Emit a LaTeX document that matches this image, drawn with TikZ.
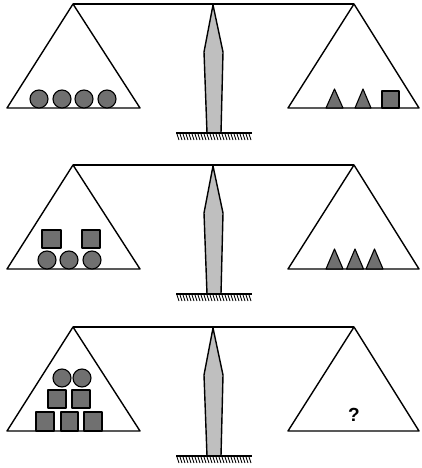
\documentclass[tikz,border=0pt]{standalone}
\usepackage{fontspec}
\usepackage{tikz}
\newfontfamily\labelfont{Liberation Sans}

\begin{document}
\begin{tikzpicture}[
   x=1pt,y=-1pt,
   line join=round,
   frame/.style={draw,line width=1.4pt},
   post/.style={draw,line width=1.4pt,fill=gray!50},
   weight/.style={draw,line width=1.1pt,fill=gray!75!black!90},
   hatch/.style={line width=0.9pt},
]
\useasboundingbox (0,0) rectangle (421,468);

% the three balances
\foreach \y in {4,165,327} {
   \draw[frame] (73,\y) -- (354,\y);
   \draw[frame] (73,\y) -- (7,\y+104) -- (140,\y+104) -- cycle;
   \draw[frame] (354,\y) -- (288,\y+104) -- (419,\y+104) -- cycle;
   \draw[post] (213,\y+1) -- (223,\y+48) -- (221,\y+129) -- (207,\y+129) -- (204,\y+48) -- cycle;
   \draw[frame] (176,\y+129) -- (252,\y+129);
   \foreach \h in {0,...,24}
      \draw[hatch] (177+3*\h,\y+130) -- ++(2,6);
}

% first balance: four balls against two cones and a cube
\foreach \cx in {39,62,84,107}
   \draw[weight] (\cx,99) circle (9);
\draw[weight] (326,108) -- (334.5,89) -- (343,108) -- cycle;
\draw[weight] (355,108) -- (363,89) -- (371,108) -- cycle;
\draw[weight] (382,91) rectangle (399,108);

% second balance: three balls and two cubes against three cones
\foreach \cx in {47,69,92}
   \draw[weight] (\cx,260) circle (9);
\draw[weight] (42,230) rectangle (61,248);
\draw[weight] (82,230) rectangle (100,248);
\foreach \cx in {334.5,355,374.5}
   \draw[weight] (\cx-8.5,269) -- (\cx,249) -- (\cx+8.5,269) -- cycle;

% third balance: two balls and five cubes against the unknown
\foreach \cx in {62,82}
   \draw[weight] (\cx,378) circle (9);
\draw[weight] (48,390) rectangle (66,408);
\draw[weight] (72,390) rectangle (90,408);
\draw[weight] (36,412) rectangle (54,431);
\draw[weight] (61,412) rectangle (78,431);
\draw[weight] (84,412) rectangle (102,431);
\node[font=\labelfont\bfseries\fontsize{19}{21}\selectfont] (unknown) at (354,415) {?};
\end{tikzpicture}
\end{document}
